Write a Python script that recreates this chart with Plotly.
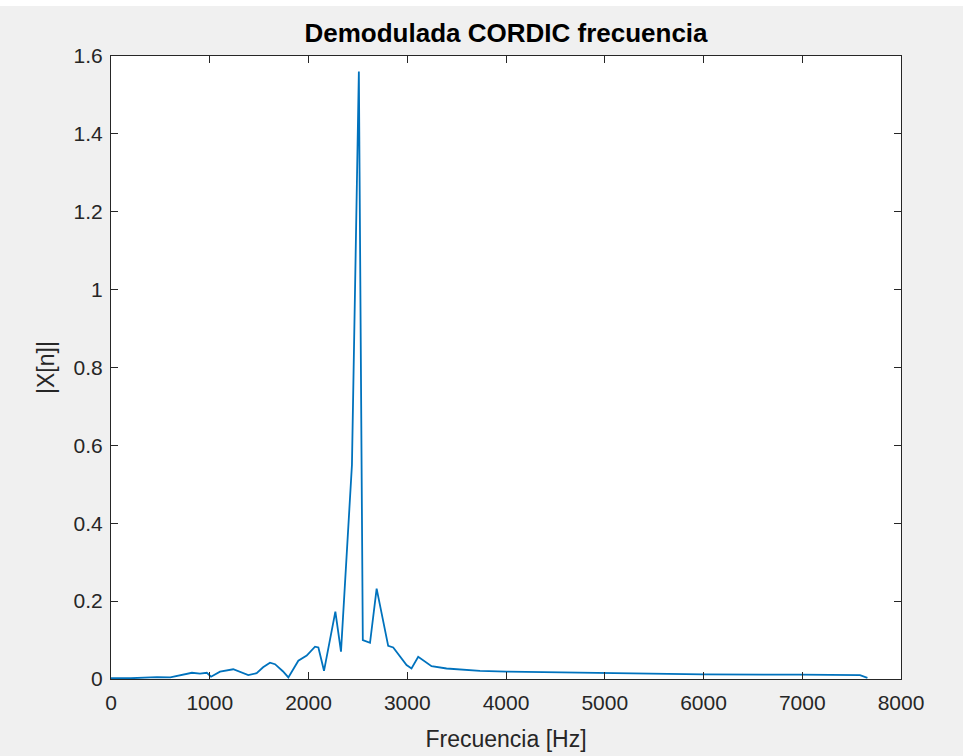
import plotly.graph_objects as go

# Frequency axis (Hz) and magnitude values
freq = [0, 200, 400, 466, 600, 700, 820, 901, 970, 1013, 1104, 1238, 1310, 1390,
        1475, 1540, 1610, 1661, 1740, 1796, 1897, 1982, 2066, 2100, 2157, 2272,
        2329, 2380, 2440, 2510, 2550, 2623, 2690, 2807, 2858, 2993, 3043, 3111,
        3246, 3398, 3737, 4007, 5003, 5998, 6977, 7585, 7660]
mag = [0.002, 0.002, 0.004, 0.005, 0.004, 0.010, 0.016, 0.014, 0.016, 0.006, 0.019,
       0.025, 0.018, 0.010, 0.015, 0.030, 0.042, 0.038, 0.020, 0.004, 0.047, 0.060,
       0.083, 0.081, 0.021, 0.173, 0.070, 0.300, 0.550, 1.560, 0.100, 0.093, 0.232,
       0.085, 0.081, 0.036, 0.027, 0.057, 0.033, 0.027, 0.021, 0.019, 0.015, 0.012,
       0.011, 0.010, 0.003]

title_text = "Demodulada CORDIC frecuencia"
x_label = "Frecuencia [Hz]"
y_label = "|X[n]|"

fig = go.Figure()
fig.add_trace(go.Scatter(x=freq, y=mag, mode="lines",
                         line=dict(color="#0072BD", width=1.8),
                         showlegend=False))

axis_common = dict(
    showgrid=False, zeroline=False, showline=True, linecolor="#262626",
    linewidth=1, mirror="ticks", ticks="inside", ticklen=7,
    tickcolor="#262626", tickwidth=1, automargin=False,
    tickfont=dict(family="Liberation Sans, Arial", size=21, color="#262626"),
)

fig.update_layout(
    width=963, height=756,
    paper_bgcolor="#f0f0f0", plot_bgcolor="#ffffff",
    margin=dict(l=111, r=62, t=56, b=77),
    title=dict(text="<b>" + title_text + "</b>", x=0.5, xanchor="center",
               xref="paper", y=1 - 33 / 756, yref="container", yanchor="middle",
               font=dict(family="Liberation Sans, Arial", size=26, color="#000000")),
    xaxis=dict(range=[0, 8000], dtick=1000, tick0=0, ticklabelstandoff=5,
               title=dict(text=x_label, standoff=17,
                          font=dict(family="Liberation Sans, Arial", size=23, color="#262626")),
               **axis_common),
    yaxis=dict(range=[0, 1.6], dtick=0.2, tick0=0, ticklabelstandoff=3,
               title=dict(text=y_label, standoff=12,
                          font=dict(family="Liberation Sans, Arial", size=23, color="#262626")),
               **axis_common),
    shapes=[dict(type="rect", xref="paper", yref="paper", x0=-0.2, x1=1.2,
                 y0=1 + 50 / 623, y1=1 + 60 / 623, fillcolor="#ffffff",
                 line=dict(width=0), layer="below")],
)

fig.write_html("out.html")
